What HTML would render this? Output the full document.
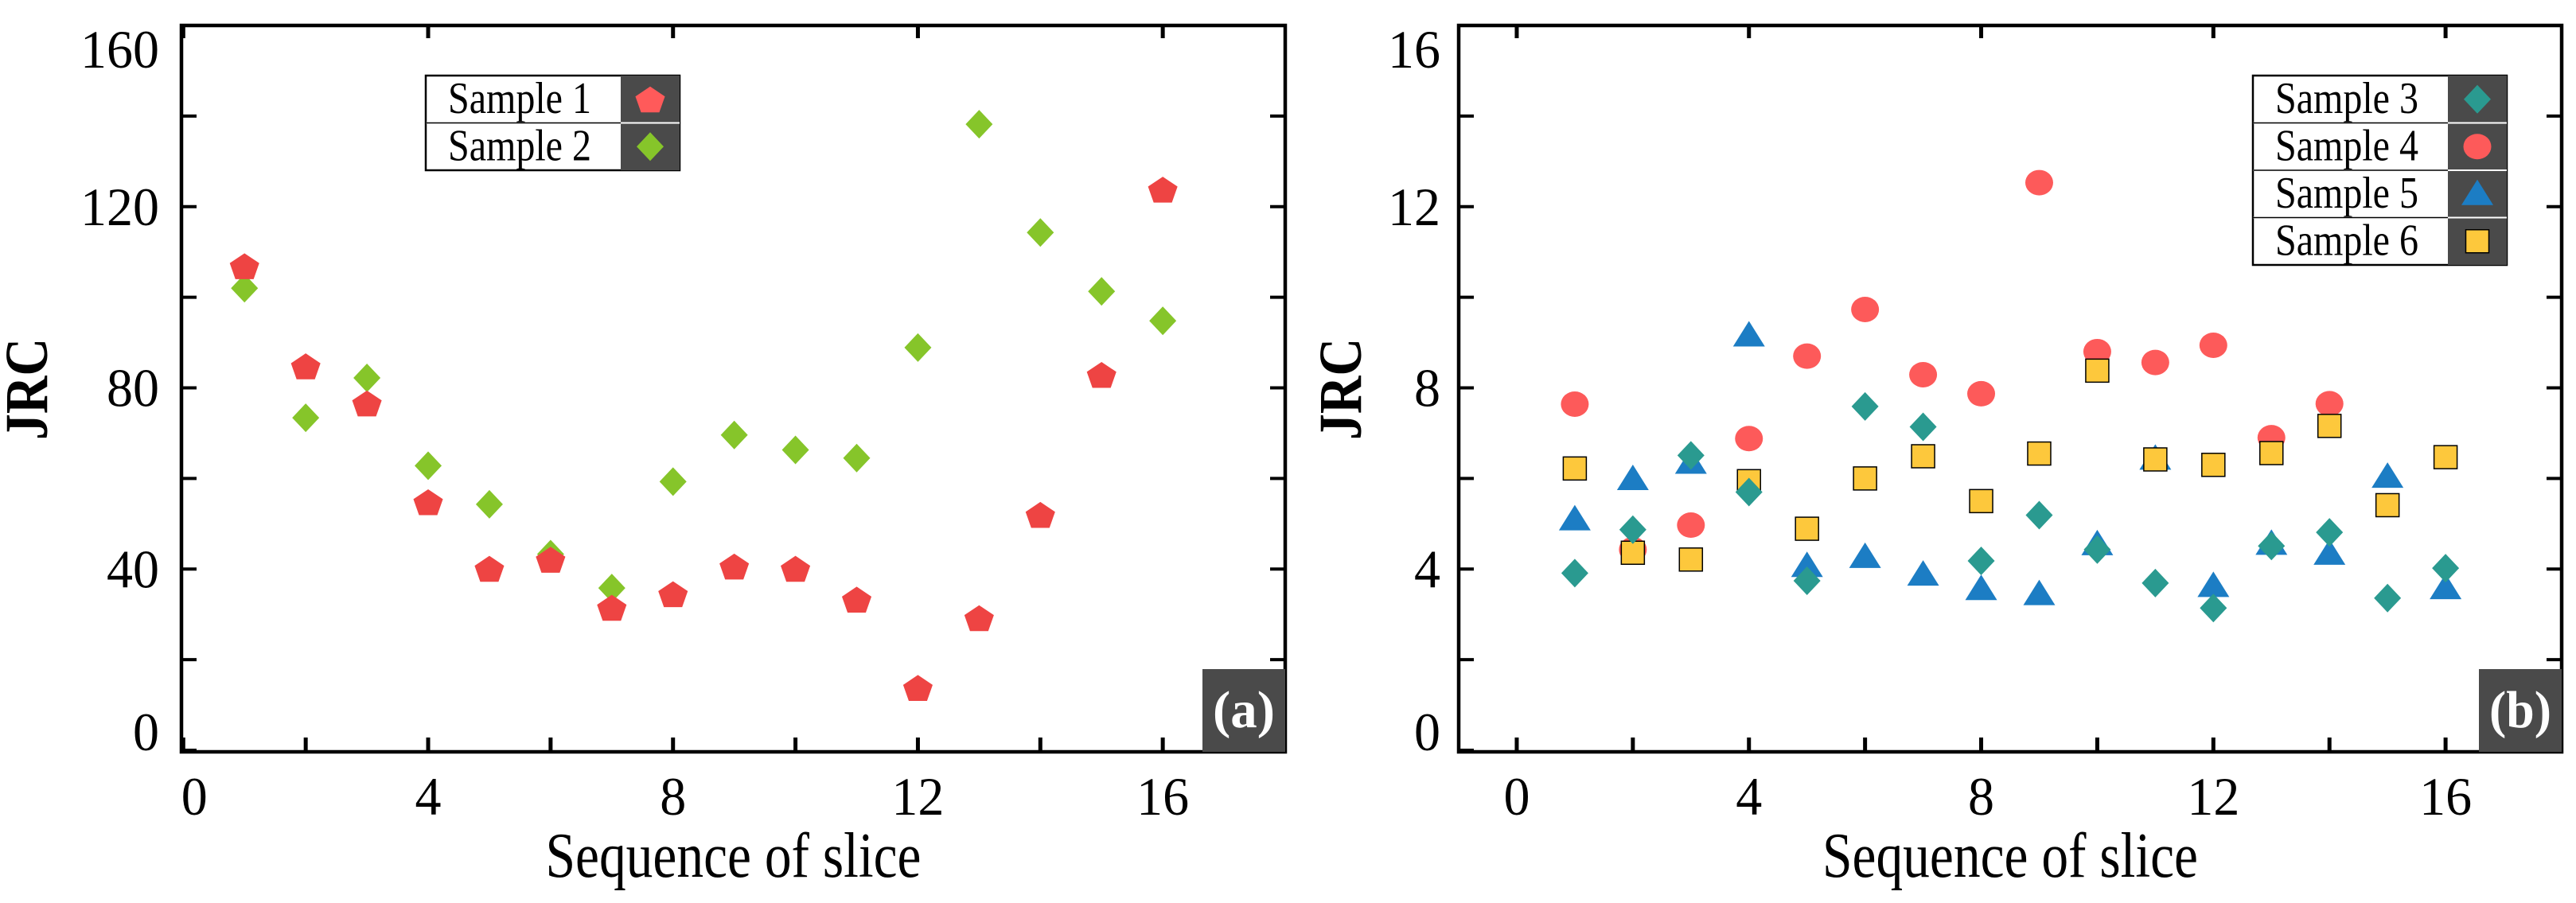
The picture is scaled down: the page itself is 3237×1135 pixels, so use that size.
<!DOCTYPE html>
<html><head><meta charset="utf-8"><style>
html,body{margin:0;padding:0;background:#fff;overflow:hidden;}
svg{display:block;font-family:"Liberation Serif",serif;}
</style></head><body>
<svg id="chart" width="3237" height="1135" viewBox="0 0 3237 1135" xmlns="http://www.w3.org/2000/svg"></svg>
<script>
const slices = [1,2,3,4,5,6,7,8,9,10,11,12,13,14,15,16];
const sample1 = [106.9,84.8,76.6,54.8,40.1,42.1,31.5,34.5,40.6,40.1,33.3,13.8,29.2,52,82.9,123.8];
const sample2 = [102,73.4,82.2,62.8,54.3,43.3,35.8,59.3,69.6,66.3,64.5,88.9,138.2,114.3,101.3,94.8];
const sample3 = [3.91,4.87,6.51,5.70,3.74,7.59,7.14,4.18,5.19,4.43,3.69,3.14,4.51,4.81,3.36,4.02];
const sample4 = [7.64,4.43,4.97,6.88,8.70,9.73,8.29,7.87,12.53,8.80,8.56,8.94,6.90,7.65,null,null];
const sample5 = [5.10,5.99,6.35,9.16,4.07,4.27,3.88,3.56,3.45,4.55,6.44,3.63,4.56,4.34,6.04,3.58];
const sample6 = [6.22,4.36,4.21,5.94,4.89,6.00,6.49,5.50,6.55,8.38,6.42,6.30,6.56,7.16,5.41,6.47];
const xTicksA = [0,4,8,12,16];
const yTicksA = [0,40,80,120,160];
const yTicksB = [0,4,8,12,16];

const NS="http://www.w3.org/2000/svg";
const svg=document.getElementById('chart');
function mk(tag,attrs,parent){const e=document.createElementNS(NS,tag);for(const k in attrs)e.setAttribute(k,attrs[k]);(parent||svg).appendChild(e);return e;}

function panel(cfg){
  const g=mk('g',{});
  
  
  const L=cfg.L,R=cfg.R,T=32,B=945;
  const sx=v=>L+(v-cfg.xmin)/(cfg.xmax-cfg.xmin)*(R-L);
  const sy=v=>943-(v/cfg.ymax)*911;
  for(let v=0;v<=16;v+=2){
    const x=sx(v);
    const t=mk('line',{x1:x,y1:B,x2:x,y2:B-18,stroke:'#000','stroke-width':5},g);
    
    
    if(v%4===0){const t2=mk('line',{x1:x,y1:T,x2:x,y2:T+16,stroke:'#000','stroke-width':5},g);
      
      }
  }
  for(let i=0;i<=8;i++){
    const v=cfg.ymax*i/8, y=sy(v);
    const t=mk('line',{x1:L,y1:y,x2:L+19,y2:y,stroke:'#000','stroke-width':4},g);
    
    
    const t2=mk('line',{x1:R,y1:y,x2:R-19,y2:y,stroke:'#000','stroke-width':4},g);
    
    
  }
  const fr=mk('rect',{x:L,y:T,width:R-L,height:B-T,fill:'none',stroke:'#000','stroke-width':4.5},g);
  
  
  cfg.xt.forEach(v=>{
    const s=String(v);
    const t=mk('text',{x:sx(v)+(cfg.x0off&&v===0?cfg.x0off:0),y:1024,'font-size':68,'text-anchor':'middle',textLength:s.length*33,lengthAdjust:'spacingAndGlyphs'},g);
    t.textContent=s;
    
    
  });
  cfg.yt.forEach(v=>{
    const s=String(v);
    let yc=sy(v); yc=Math.max(62,Math.min(920,yc));
    const t=mk('text',{x:cfg.ylabX,y:yc+23,'font-size':68,'text-anchor':'end',textLength:s.length*33,lengthAdjust:'spacingAndGlyphs'},g);
    t.textContent=s;
    
    
  });
  const xt=mk('text',{x:(L+R)/2,y:1102,'font-size':80,'text-anchor':'middle',textLength:472,lengthAdjust:'spacingAndGlyphs'},g);
  xt.textContent='Sequence of slice';
  
  
  const yt=mk('text',{x:0,y:0,'font-size':76,'font-weight':'bold','text-anchor':'middle',textLength:128,lengthAdjust:'spacingAndGlyphs',transform:`translate(${cfg.yTitleX+26},489) rotate(-90)`},g);
  yt.textContent='JRC';
  
  
  const pb=mk('rect',{x:R-104,y:841,width:104,height:104,fill:'#4a4a4a'},g);
  
  
  const pt=mk('text',{x:R-52,y:914,'font-size':66,'font-weight':'bold',fill:'#fff','text-anchor':'middle',textLength:78,lengthAdjust:'spacingAndGlyphs'},g);
  pt.textContent=cfg.tag;
  
  
  return {g,sx,sy};
}

function marker(shape,x,y,color,parent){
  let e;
  if(shape==='pentagon'){
    const pts=[];for(let i=0;i<5;i++){const a=-Math.PI/2+i*2*Math.PI/5;pts.push((x+19.5*Math.cos(a))+','+(y+18*Math.sin(a)+2));}
    e=mk('polygon',{points:pts.join(' '),fill:color},parent);
  }else if(shape==='diamond'){
    e=mk('polygon',{points:`${x},${y-18} ${x+17},${y} ${x},${y+18} ${x-17},${y}`,fill:color},parent);
  }else if(shape==='circle'){
    e=mk('ellipse',{cx:x,cy:y,rx:17.5,ry:16,fill:color},parent);
  }else if(shape==='triangle'){
    e=mk('polygon',{points:`${x},${y-18} ${x+20},${y+14} ${x-20},${y+14}`,fill:color},parent);
  }else{
    e=mk('rect',{x:x-14.5,y:y-14.5,width:29,height:29,fill:color,stroke:'#000','stroke-width':1.5},parent);
  }
  return e;
}

function series(p,vals,shape,color,name){
  const g=mk('g',{},p.g);
  
  
  vals.forEach((v,i)=>{
    if(v===null)return;
    const m=marker(shape,p.sx(slices[i]),p.sy(v),color,g);
    
    
  });
}

function legend(p,x,y,items){
  const g=mk('g',{},p.g);
  
  
  const rh=59.5;
  const h=items.length*rh;
  const w=319, dw=74;
  mk('rect',{x:x,y:y,width:w,height:h,fill:'#fff',stroke:'#000','stroke-width':2.5},g);
  mk('rect',{x:x+w-dw,y:y,width:dw,height:h,fill:'#4a4a4a'},g);
  items.forEach((it,i)=>{
    const ry=y+i*rh;
    const eg=mk('g',{},g);
    
    
    if(i>0)mk('line',{x1:x,y1:ry,x2:x+w,y2:ry,stroke:'#fff','stroke-width':2},eg);
    if(i>0)mk('line',{x1:x,y1:ry,x2:x+w-dw,y2:ry,stroke:'#000','stroke-width':1.5},eg);
    const t=mk('text',{x:x+28,y:ry+rh/2+17,'font-size':56,textLength:180,lengthAdjust:'spacingAndGlyphs'},eg);
    t.textContent=it[0];
    marker(it[1],x+w-dw/2,ry+rh/2,it[2],eg);
  });
}

const pa=panel({name:'panel-a',L:228,R:1615,xmin:-0.03,xmax:18,ymax:160,xt:xTicksA,yt:yTicksA,ylabX:200,yTitleX:33,tag:'(a)',x0off:14});
series(pa,sample2,'diamond','#86c52a','series-sample-2');
series(pa,sample1,'pentagon','#ee4443','series-sample-1');
legend(pa,535,95,[['Sample 1','pentagon','#ff5a5a'],['Sample 2','diamond','#86c52a']]);

const pb=panel({name:'panel-b',L:1833,R:3219,xmin:-1,xmax:18,ymax:16,xt:xTicksA,yt:yTicksB,ylabX:1810,yTitleX:1684,tag:'(b)'});
series(pb,sample4,'circle','#fd5a5a','series-sample-4');
series(pb,sample5,'triangle','#1c7dc4','series-sample-5');
series(pb,sample6,'square','#fdc83c','series-sample-6');
series(pb,sample3,'diamond','#2a9a90','series-sample-3');
legend(pb,2831,95,[['Sample 3','diamond','#2a9a90'],['Sample 4','circle','#fd5a5a'],['Sample 5','triangle','#1c7dc4'],['Sample 6','square','#fdc83c']]);
</script>
</body></html>
